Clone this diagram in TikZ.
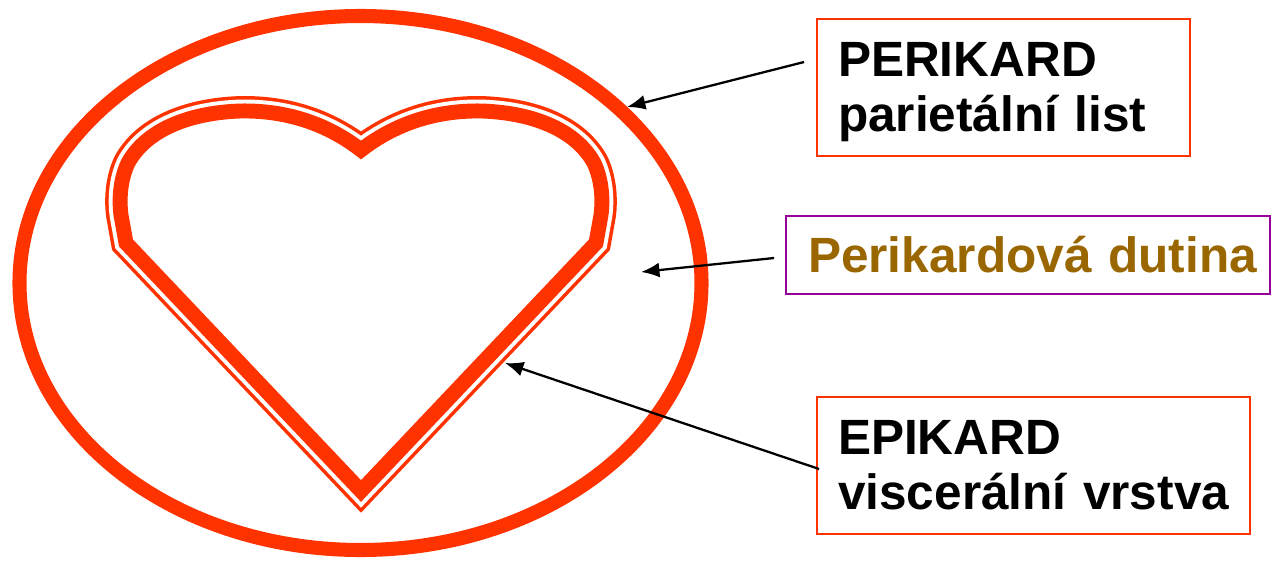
\documentclass[tikz,border=0pt]{standalone}
\usepackage{fontspec}
\setmainfont{Liberation Sans}
\usetikzlibrary{arrows.meta}

\definecolor{sacred}{HTML}{FF3300}
\definecolor{sacpurple}{HTML}{990099}
\definecolor{sacbrown}{HTML}{996600}

\begin{document}
\begin{tikzpicture}[x=0.02cm,y=-0.02cm,
    tag/.style={draw=sacred, line width=1.1pt, inner xsep=0.42cm, inner ysep=0pt,
      align=left, font=\fontsize{28.2}{31.3}\selectfont\bfseries},
    pointer/.style={-{Latex[length=10.5pt,width=8.5pt]}, line width=1.3pt}]
  \useasboundingbox (0,0) rectangle (1271,568);

  % pericardial sac
  \draw[sacred, line width=8pt] (360.5,283) ellipse [x radius=341, y radius=267];

  % heart outline, thick line inside and thin line around it
  \path[save path=\heartpath] (361,150)
      .. controls (330,126) and (290,110) .. (240,111)
      .. controls (185,113) and (145,132) .. (128,163)
      .. controls (120,180) and (119,200) .. (121,215)
      -- (126,243) -- (361,491) -- (596,243) -- (601,215)
      .. controls (603,200) and (602,180) .. (594,163)
      .. controls (577,132) and (537,113) .. (482,111)
      .. controls (432,110) and (392,126) .. (361,150) -- cycle;
  \draw[sacred, line width=17pt, use path=\heartpath];
  \draw[white, line width=13pt, use path=\heartpath];
  \fill[white, use path=\heartpath];
  \draw[sacred, line width=8.5pt, use path=\heartpath];

  \draw (1003.5,87.5) node[tag, minimum width=7.46cm, minimum height=2.74cm,
      text width=6.62cm, text height=0.86cm, text depth=1.30cm] (parietal)
      {\mbox{PERIKARD}\\\mbox{parietální list}};
  \draw (1028,255) node[tag, draw=sacpurple, text=sacbrown, inner xsep=0.44cm,
      minimum width=9.68cm, minimum height=1.56cm, text width=8.8cm,
      text height=0.71cm, text depth=0cm] (cavity) {\mbox{Perikardová dutina}};
  \draw (1033.5,465.5) node[tag, minimum width=8.66cm, minimum height=2.74cm,
      text width=7.82cm, text height=0.86cm, text depth=1.30cm] (visceral)
      {\mbox{EPIKARD}\\\mbox{viscerální vrstva}};

  \coordinate (sac) at (627,107);
  \coordinate (gap) at (641,272);
  \coordinate (wall) at (505,363);

  \draw[pointer] ([shift={(-12,-25.5)}]parietal.west) -- (sac);
  \draw[pointer] ([shift={(-11,3)}]cavity.west) -- (gap);
  \draw[pointer] ([shift={(3,3.5)}]visceral.west) -- (wall);
\end{tikzpicture}
\end{document}
